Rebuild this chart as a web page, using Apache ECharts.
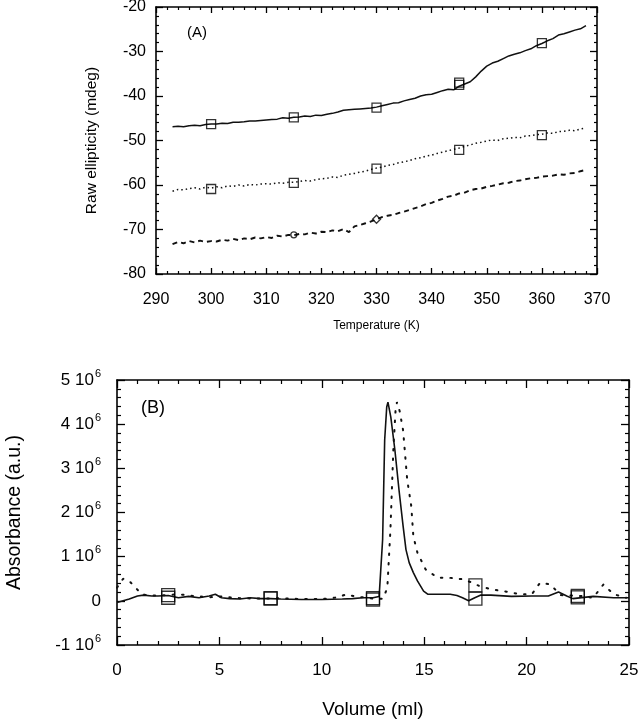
<!DOCTYPE html>
<html><head><meta charset="utf-8">
<script src="https://cdn.jsdelivr.net/npm/echarts@6/dist/echarts.min.js"></script>
<style>html,body{margin:0;padding:0;background:#fff}#c{width:643px;height:719px}</style>
</head><body><div id="c"></div>
<script>
// ---------- Panel A : CD melting ----------
const tempA = [293,294,295,296,297,298,299,300,301,302,303,304,305,306,307,308,309,310,311,312,313,314,315,316,317,318,319,320,321,322,323,324,325,326,327,328,329,330,331,332,333,334,335,336,337,338,339,340,341,342,343,344,345,346,347,348,349,350,351,352,353,354,355,356,357,358,359,360,361,362,363,364,365,366,367,368];
const solidA = [-46.9,-46.8,-46.9,-46.7,-46.6,-46.7,-46.4,-46.3,-46.3,-46.1,-46.2,-45.9,-45.9,-45.8,-45.6,-45.6,-45.5,-45.4,-45.3,-45.2,-44.9,-45.0,-44.8,-44.7,-44.5,-44.6,-44.3,-44.4,-44.1,-43.9,-43.6,-43.2,-43.1,-43.0,-42.9,-42.8,-42.7,-42.5,-42.2,-41.9,-41.6,-41.5,-41.1,-40.8,-40.5,-40.0,-39.7,-39.6,-39.2,-38.8,-38.5,-38.6,-37.8,-37.3,-36.8,-35.7,-34.4,-33.3,-32.6,-32.2,-31.6,-31.0,-30.6,-30.3,-29.8,-29.4,-28.7,-28.2,-27.6,-27.1,-26.3,-26.0,-25.6,-25.2,-24.9,-24.2];
const dottedA = [-61.4,-61.0,-61.1,-60.8,-60.6,-60.9,-60.5,-60.7,-60.4,-60.6,-60.2,-60.3,-60.0,-60.2,-59.9,-60.0,-59.8,-59.7,-59.8,-59.5,-59.6,-59.4,-59.4,-59.2,-59.0,-59.1,-58.8,-58.6,-58.5,-58.2,-58.3,-57.8,-57.6,-57.4,-57.1,-56.9,-56.5,-56.2,-56.0,-55.6,-55.4,-55.0,-54.8,-54.5,-54.1,-53.9,-53.5,-53.3,-52.9,-52.6,-52.3,-52.0,-51.7,-51.3,-51.0,-50.6,-50.4,-50.1,-49.9,-50.0,-49.6,-49.5,-49.3,-49.4,-49.0,-48.9,-48.7,-48.6,-48.3,-48.4,-48.0,-47.9,-47.7,-47.8,-47.4,-47.2];
const dashedA = [-73.3,-72.8,-73.1,-72.6,-72.9,-72.5,-72.8,-72.6,-72.7,-72.3,-72.5,-72.1,-72.4,-72.0,-72.2,-71.8,-72.0,-71.7,-71.9,-71.4,-71.6,-71.2,-71.3,-71.0,-71.1,-70.7,-70.9,-70.5,-70.6,-70.2,-70.4,-69.9,-70.6,-69.3,-69.0,-68.6,-68.2,-67.7,-67.2,-66.9,-66.7,-66.3,-66.0,-65.6,-65.2,-64.8,-64.3,-64.0,-63.5,-63.1,-62.6,-62.4,-61.9,-61.7,-61.2,-60.9,-60.8,-60.4,-60.2,-59.9,-59.6,-59.5,-59.1,-59.0,-58.7,-58.5,-58.4,-58.1,-58.0,-57.9,-57.6,-57.7,-57.4,-57.3,-56.9,-56.6];
const markTempA = [300,315,330,345,360];
const solidMarkA = [-46.3,-44.8,-42.6,-37.5,-28.1];
const solidMarkA2 = [345];
const solidMarkA2v = [-37.0];
const dottedMarkA = [-60.9,-59.5,-56.3,-52.1,-48.8];
const circleTempA = [315], circleValA = [-71.2];
const diamondTempA = [330], diamondValA = [-67.7];
const xTicksA = [290,300,310,320,330,340,350,360,370];
const yTicksA = [-80,-70,-60,-50,-40,-30,-20];

// ---------- Panel B : chromatogram (units of 10^6) ----------
const volSolidB = [0,0.3,0.6,1.0,1.3,1.7,2.0,2.5,3.0,3.5,4.0,4.5,4.8,5.1,5.5,6.0,6.5,7.0,7.5,8.0,9.0,10.0,11.0,11.5,12.0,12.5,12.8,12.97,13.07,13.17,13.23,13.37,13.57,13.77,13.97,14.11,14.27,14.47,14.67,14.97,15.17,16.27,16.6,16.87,17.17,17.47,17.77,18.26,19.26,20.26,21.06,21.56,21.96,22.26,23.25,24.25,25];
const solidB = [-0.04,0.0,0.04,0.11,0.13,0.11,0.11,0.12,0.07,0.1,0.07,0.11,0.15,0.07,0.05,0.04,0.07,0.05,0.05,0.04,0.03,0.03,0.04,0.05,0.07,0.07,0.1,1.39,3.64,4.39,4.5,4.16,3.41,2.51,1.69,1.16,0.86,0.64,0.45,0.22,0.15,0.15,0.12,0.07,0.0,0.07,0.13,0.13,0.1,0.11,0.11,0.2,0.11,0.05,0.1,0.07,0.07];
const volDotB = [0,0.3,0.6,0.9,1.2,1.6,2.0,2.5,3.0,3.5,4.0,4.5,5.0,6.0,7.0,8.0,9.0,10.0,10.8,11.2,11.6,12.0,12.5,13.0,13.2,13.35,13.5,13.6,13.67,13.8,13.97,14.17,14.37,14.47,14.67,15.07,15.67,16.27,16.87,17.3,17.67,18.26,18.86,19.66,20.26,20.66,21.16,21.66,22.66,23.25,23.75,24.25,24.86];
const dotB = [0.3,0.5,0.45,0.3,0.15,0.12,0.12,0.13,0.15,0.12,0.1,0.08,0.1,0.06,0.05,0.06,0.04,0.04,0.08,0.15,0.1,0.08,0.05,0.05,0.3,1.6,3.5,4.3,4.5,4.3,3.86,2.74,2.14,1.46,1.09,0.71,0.52,0.52,0.49,0.42,0.34,0.26,0.22,0.15,0.15,0.41,0.37,0.13,0.11,0.07,0.37,0.15,0.07];
const markVolB = [2.5,7.5,12.5,17.5,22.5];
const solidMarkB = [0.07,0.05,0.03,0.05,0.08];
const dotMarkB = [0.13,0.06,0.06,0.35,0.11];
const xTicksB = [0,5,10,15,20,25];
const yTicksB = [-1,0,1,2,3,4,5];

const FONT = '"Liberation Sans", Arial, sans-serif';
const pairs = (xs, ys) => xs.map((x, i) => [x, ys[i]]);

function axisPair(kind, grid, min, max, interval, label, name, opts) {
  const common = {
    type: 'value', gridIndex: grid, min: min, max: max, interval: interval,
    splitLine: {show: false},
    axisLine: {show: true, onZero: false, lineStyle: {color: '#000', width: 1.6}},
    axisTick: {show: true, inside: true, length: opts.major, lineStyle: {color: '#000', width: 1.3}},
    minorTick: {show: true, splitNumber: opts.minorSplit, length: opts.minor, lineStyle: {color: '#000', width: 1.2}},
    minorSplitLine: {show: false}
  };
  const main = Object.assign({}, common, {
    position: kind === 'x' ? 'bottom' : 'left',
    axisLabel: Object.assign({color: '#000', fontFamily: FONT}, label),
    name: name.text, nameLocation: 'middle', nameGap: name.gap,
    nameTextStyle: {color: '#000', fontFamily: FONT, fontSize: name.size}
  });
  const mirror = Object.assign({}, common, {
    position: kind === 'x' ? 'top' : 'right',
    axisLabel: {show: false}
  });
  return [main, mirror];
}

const [xA, xA2] = axisPair('x', 0, 290, 370, 10,
  {fontSize: 16, margin: 18}, {text: 'Temperature (K)', gap: 46, size: 12}, {major: 6, minor: 3, minorSplit: 5});
const [yA, yA2] = axisPair('y', 0, -80, -20, 10,
  {fontSize: 16, margin: 10}, {text: 'Raw ellipticity (mdeg)', gap: 56, size: 15.5}, {major: 7, minor: 3, minorSplit: 5});
const [xB, xB2] = axisPair('x', 1, 0, 25, 5,
  {fontSize: 17, margin: 17}, {text: 'Volume (ml)', gap: 55, size: 19}, {major: 8, minor: 4, minorSplit: 5});
const [yB, yB2] = axisPair('y', 1, -1, 5, 1,
  {fontSize: 17, margin: 16, formatter: v => v === 0 ? '0' : '{a|' + v + ' 10}{s|6}',
   rich: {a: {fontSize: 17, fontFamily: FONT, color: '#000'},
          s: {fontSize: 11, fontFamily: FONT, color: '#000', padding: [0, 0, 13, 1]}}},
  {text: 'Absorbance (a.u.)', gap: 92, size: 19.5}, {major: 8, minor: 4, minorSplit: 5});

const lineBase = {type: 'line', showSymbol: false, symbol: 'none', animation: false, silent: true};
const sq = (xi, yi, data, size, sym) => ({
  type: 'scatter', xAxisIndex: xi, yAxisIndex: yi, data: data, symbol: sym || 'rect', symbolSize: size,
  itemStyle: {color: 'rgba(0,0,0,0)', borderColor: '#000', borderWidth: 1.3}, silent: true, z: 5
});

const chart = echarts.init(document.getElementById('c'), null, {renderer: 'canvas'});
chart.setOption({
  animation: false,
  backgroundColor: '#fff',
  grid: [
    {left: 156, top: 7, width: 441, height: 267, containLabel: false, outerBoundsMode: 'none'},
    {left: 117, top: 380, width: 512, height: 265, containLabel: false, outerBoundsMode: 'none'}
  ],
  xAxis: [xA, xA2, xB, xB2],
  yAxis: [yA, yA2, yB, yB2],
  graphic: [
    {type: 'text', left: 187, top: 25, style: {text: '(A)', font: '15px ' + FONT, fill: '#000'}},
    {type: 'text', left: 141, top: 399, style: {text: '(B)', font: '18px ' + FONT, fill: '#000'}}
  ],
  series: [
    Object.assign({}, lineBase, {xAxisIndex: 0, yAxisIndex: 0, data: pairs(tempA, solidA), lineStyle: {color: '#111', width: 1.5}}),
    Object.assign({}, lineBase, {xAxisIndex: 0, yAxisIndex: 0, data: pairs(tempA, dottedA), lineStyle: {color: '#111', width: 1.5, type: [1.5, 3]}}),
    Object.assign({}, lineBase, {xAxisIndex: 0, yAxisIndex: 0, data: pairs(tempA, dashedA), lineStyle: {color: '#111', width: 1.9, type: [5, 4]}}),
    sq(0, 0, pairs(markTempA, solidMarkA), 9),
    sq(0, 0, pairs(solidMarkA2, solidMarkA2v), 9),
    sq(0, 0, pairs(markTempA, dottedMarkA), 9),
    sq(0, 0, pairs(circleTempA, circleValA), 6, 'circle'),
    sq(0, 0, pairs(diamondTempA, diamondValA), 8, 'diamond'),
    Object.assign({}, lineBase, {xAxisIndex: 2, yAxisIndex: 2, data: pairs(volSolidB, solidB), lineStyle: {color: '#111', width: 1.6}}),
    Object.assign({}, lineBase, {xAxisIndex: 2, yAxisIndex: 2, data: pairs(volDotB, dotB), lineStyle: {color: '#111', width: 2, type: [1.5, 8], cap: 'round'}}),
    sq(2, 2, pairs(markVolB, solidMarkB), 13),
    sq(2, 2, pairs(markVolB, dotMarkB), 13)
  ]
});
</script></body></html>
